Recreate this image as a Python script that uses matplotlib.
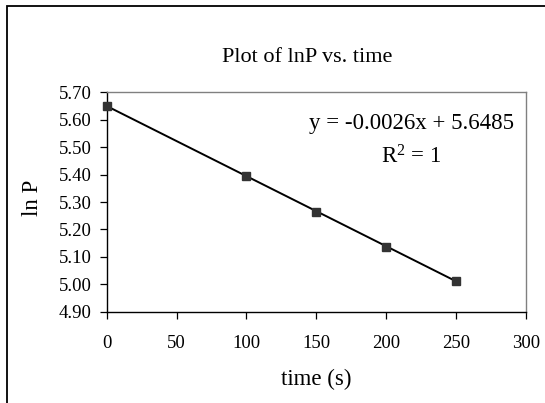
import numpy as np
import matplotlib as mpl
import matplotlib.pyplot as plt
from matplotlib.patches import Rectangle


# data
time_s = [0, 100, 150, 200, 250]
ln_p = [5.650, 5.396, 5.265, 5.136, 5.013]
x_ticks = [0, 50, 100, 150, 200, 250, 300]
y_ticks = [4.90, 5.00, 5.10, 5.20, 5.30, 5.40, 5.50, 5.60, 5.70]

mpl.rcParams.update({'font.family': 'Liberation Serif',
                     'mathtext.fontset': 'custom',
                     'mathtext.rm': 'Liberation Serif',
                     'mathtext.it': 'Liberation Serif:italic'})

W, H = 545, 403
fig = plt.figure(figsize=(W / 100, H / 100), dpi=100)
fig.patch.set_facecolor('white')

# outer chart frame (cut off at right and bottom)
fig.patches.append(Rectangle((7 / W, -0.1), 1.2, 1.1 - 6 / H,
                             transform=fig.transFigure, fill=False,
                             edgecolor='black', linewidth=1.3))

left, right = 106.7 / W, 526 / W
bottom, top = 1 - 311.7 / H, 1 - 92.3 / H
ax = fig.add_axes([left, bottom, right - left, top - bottom])

# trendline from a linear fit of the points
slope, intercept = np.polyfit(time_s, ln_p, 1)
x_fit = np.array([min(time_s), max(time_s)])
ax.plot(x_fit, slope * x_fit + intercept, color='black', linewidth=1.4,
        zorder=2)
ax.plot(time_s, ln_p, linestyle='none', marker='s', markersize=5.5,
        color='#333333', zorder=3, clip_on=False)

ax.set_xlim(0, 300)
ax.set_ylim(4.90, 5.70)
ax.set_xticks(x_ticks)
ax.set_yticks(y_ticks)
ax.set_yticklabels([f"{v:.2f}" for v in y_ticks])
ax.tick_params(direction='out', length=5, width=0.9, labelsize=13.5,
               color='black')
ax.tick_params(axis='x', pad=12)
ax.tick_params(axis='y', pad=6)

for side in ('left', 'bottom'):
    ax.spines[side].set_color('black')
    ax.spines[side].set_linewidth(1.0)
for side in ('top', 'right'):
    ax.spines[side].set_color('#808080')
    ax.spines[side].set_linewidth(1.0)

ax.set_xlabel("time (s)", fontsize=16.5)
ax.set_ylabel("ln P", fontsize=16.5)
ax.xaxis.set_label_coords(0.5, -0.311)
ax.xaxis.label.set_va('center')
ax.yaxis.set_label_coords(-0.176, 0.52)
ax.yaxis.label.set_va('center')

fig.text(306.7 / W, 1 - 61.7 / H, "Plot of lnP vs. time", fontsize=16,
         ha='center', va='baseline')

ax.text(0.727, 0.86, "y = -0.0026x + 5.6485", transform=ax.transAxes,
        fontsize=16.5, ha='center', va='center')
ax.text(0.727, 0.705, r"R$^2$ = 1", transform=ax.transAxes,
        fontsize=16.5, ha='center', va='center')

fig.savefig("out.png", dpi=100)
